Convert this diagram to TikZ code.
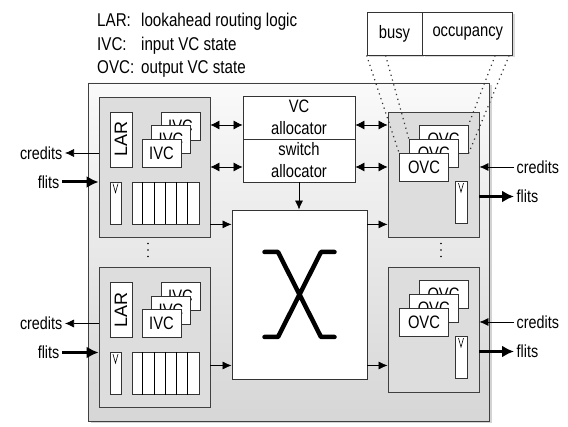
\documentclass[tikz,border=0pt]{standalone}
\usepackage{fontspec}
\setmainfont{Liberation Sans}[FakeStretch=0.82]
\newfontfamily\larfont{Liberation Sans}
\usetikzlibrary{positioning, arrows.meta, shadows}

\begin{document}
\begin{tikzpicture}[
    x=1pt, y=1pt,
    txt/.style={font=\fontsize{17.5}{20}\selectfont, inner sep=2.5pt},
    legend/.style={font=\fontsize{18.5}{20}\selectfont, inner sep=0pt, anchor=west},
    router/.style={draw=black!75, line width=0.8pt, top color=gray!4, bottom color=gray!32,
      minimum width=401pt, minimum height=338pt, inner sep=0pt,
      drop shadow={shadow xshift=2.5pt, shadow yshift=-2.5pt, opacity=0.35}},
    unit/.style={draw=black!75, line width=0.8pt, fill=gray!27, inner sep=0pt},
    wbox/.style={draw=black!80, line width=0.8pt, fill=white, inner sep=0pt,
      font=\fontsize{18}{22}\selectfont},
    vc/.style={wbox, minimum width=39pt, minimum height=28pt},
    ovc/.style={wbox, minimum width=49pt, minimum height=28pt},
    arr/.style={-{Latex[length=9pt, width=8pt]}, line width=0.7pt},
    dbl/.style={{Latex[length=9pt, width=9pt]}-{Latex[length=9pt, width=9pt]}, line width=0.7pt},
    fat/.style={-{Latex[length=12pt, width=12pt]}, line width=3pt},
    zoomline/.style={draw=black!80, line width=1.2pt, dash pattern=on 1.2pt off 3.8pt}
]
  \useasboundingbox (0,0) rectangle (568,427);

  % legend
  \node[legend] (legLAR) at (97,405) {\makebox[44pt][l]{LAR:}lookahead routing logic};
  \node[legend] (legIVC) at (97,381) {\makebox[44pt][l]{IVC:}input VC state};
  \node[legend] (legOVC) at (97,358) {\makebox[44pt][l]{OVC:}output VC state};

  % router
  \node[router] (rt) at (288.5,175) {};

  % input units
  \foreach \s/\y in {T/260, B/89.5} {
    \node[unit, minimum width=111pt, minimum height=140pt] (in\s) at (154.5,\y) {};
    \node[wbox, minimum width=55pt, minimum height=22pt, rotate=90, font=\larfont\fontsize{18}{20}\selectfont]
      (lar\s) at (121,\y+27.5) {LAR};
    \node[vc] (ivc\s3) at (180.5,\y+41) {IVC};
    \node[vc] (ivc\s2) at (171,\y+27.5) {IVC};
    \node[vc] (ivc\s1) at (161.5,\y+14) {IVC};
    \node[wbox, minimum width=11pt, minimum height=42pt] (vin\s) at (115.5,\y-36) {};
    \draw[line width=0.6pt] ([xshift=-2.5pt, yshift=-2pt]vin\s.north) -- ([yshift=-11pt]vin\s.north)
      -- ([xshift=2.5pt, yshift=-2pt]vin\s.north);
    \node[wbox, minimum width=67pt, minimum height=42pt] (buf\s) at (165.5,\y-36) {};
    \foreach \i in {1,...,5}
      \draw[line width=0.8pt] ([xshift=\i*11.17pt]buf\s.south west) -- ([xshift=\i*11.17pt]buf\s.north west);
    \node[txt, anchor=east] (crL\s) at (65,\y+14) {credits};
    \node[txt, anchor=east] (flL\s) at (62,\y-15) {flits};
    \draw[arr] (in\s.west |- crL\s.east) -- (crL\s.east);
    \draw[fat] (flL\s.east) -- (flL\s.east -| in\s.west);
  }

  % output units
  \foreach \s/\y in {T/252.5, B/97.5} {
    \node[unit, minimum width=91pt, minimum height=125pt] (out\s) at (433.5,\y) {};
    \node[ovc] (ovc\s3) at (443.5,\y+35) {OVC};
    \node[ovc] (ovc\s2) at (433.75,\y+21) {OVC};
    \node[ovc] (ovc\s1) at (424,\y+7) {OVC};
    \node[wbox, minimum width=12pt, minimum height=42pt] (vout\s) at (461,\y-28) {};
    \draw[line width=0.6pt] ([xshift=-2.5pt, yshift=-2pt]vout\s.north) -- ([yshift=-11pt]vout\s.north)
      -- ([xshift=2.5pt, yshift=-2pt]vout\s.north);
    \node[txt, anchor=west] (crR\s) at (514,\y+7.5) {credits};
    \node[txt, anchor=west] (flR\s) at (514,\y-22) {flits};
    \draw[arr] (crR\s.west) -- (crR\s.west -| out\s.east);
    \draw[fat] (flR\s.west -| out\s.east) -- (flR\s.west);
  }

  \coordinate (dotsL) at (148,177);
  \coordinate (dotsR) at (441,177);
  \foreach \d in {-6.5,0,6.5} {
    \fill ([yshift=\d pt]dotsL) circle (0.9pt);
    \fill ([yshift=\d pt]dotsR) circle (0.9pt);
  }

  % allocators and crossbar
  \node[wbox, minimum width=112pt, minimum height=43pt, align=center] (vcal) at (299,309.5) {VC\\allocator};
  \node[wbox, minimum width=112pt, minimum height=43pt, align=center] (swal) at (299,266.5) {switch\\allocator};
  \node[wbox, minimum width=135pt, minimum height=169pt] (xbar) at (299.5,132.5) {};
  \draw[line width=4.5pt, line cap=round, line join=round, shift={(xbar.center)}]
    (-35,42.5) -- (-21.5,42.5) -- (21.5,-42.5) -- (35,-42.5)
    (35,42.5) -- (21.5,42.5) -- (-21.5,-42.5) -- (-35,-42.5);

  \coordinate (vl1) at ([yshift=-7.5pt]vcal.west);
  \coordinate (vl2) at ([yshift=-6.5pt]swal.west);
  \draw[dbl] (vl1 -| inT.east) -- (vl1);
  \draw[dbl] (vl2 -| inT.east) -- (vl2);
  \draw[dbl] (vl1 -| vcal.east) -- (vl1 -| outT.west);
  \draw[dbl] (vl2 -| swal.east) -- (vl2 -| outT.west);
  \draw[arr] (swal.south) -- (swal.south |- xbar.north);

  \coordinate (xinB) at ([yshift=8pt]bufB.center);
  \draw[arr] (bufT.south -| inT.east) -- (bufT.south -| xbar.west);
  \draw[arr] (xinB -| inB.east) -- (xinB -| xbar.west);
  \draw[arr] (bufT.south -| xbar.east) -- (bufT.south -| outT.west);
  \draw[arr] (xinB -| xbar.east) -- (xinB -| outB.west);

  % OVC contents
  \node[wbox, minimum width=55pt, minimum height=43pt,
    drop shadow={shadow xshift=2pt, shadow yshift=-2pt, opacity=0.3}] (busy) at (394.5,393.5) {busy};
  \node[wbox, minimum width=90pt, minimum height=43pt, right=0pt of busy,
    drop shadow={shadow xshift=2pt, shadow yshift=-2pt, opacity=0.3}] (occ) {occupancy};
  \draw[zoomline] (busy.south west) -- (ovcT1.north west);
  \draw[zoomline] ([xshift=19pt]busy.south west) -- (ovcT2.north west);
  \draw[zoomline] ([xshift=-18pt]occ.south east) -- (ovcT3.north east);
  \draw[zoomline] ([xshift=-4pt]occ.south east) -- (ovcT3.south east);
\end{tikzpicture}
\end{document}
